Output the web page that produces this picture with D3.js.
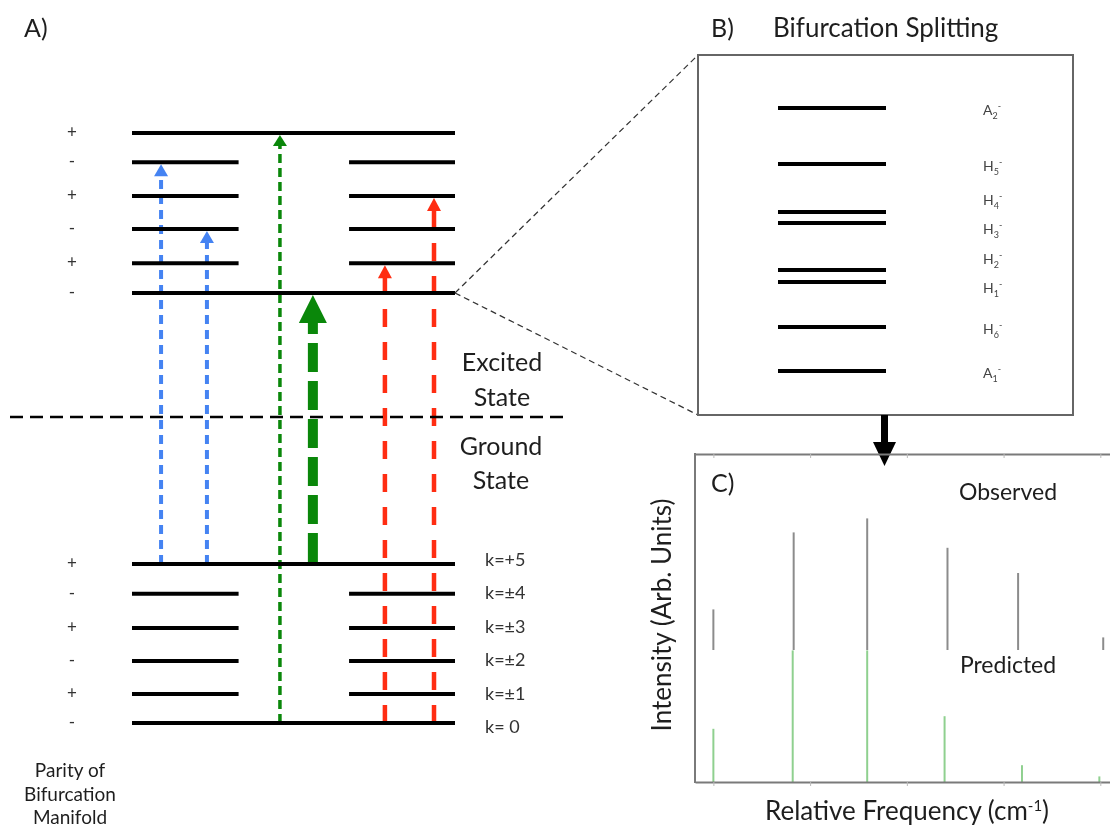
<!DOCTYPE html>
<html><head><meta charset="utf-8">
<script src="https://cdn.jsdelivr.net/npm/d3@7"></script>
<style>
body{margin:0;background:#fff}
svg{will-change:transform}
text{font-family:Lato,"Open Sans",sans-serif;fill:#1e1e1e}
</style>
</head><body>
<svg id="c" width="1110" height="833"></svg>
<script>
// ---------------- Panel A data ----------------
const groundLabels = ["k= 0","k=\u00b11","k=\u00b12","k=\u00b13","k=\u00b14","k=+5"];
const groundEnergy = [0, 0.885, 1.89, 2.9, 3.94, 4.85];
const groundParity = ["-","+","-","+","-","+"];
const groundSplit  = [false,true,true,true,true,false];
const excitedEnergy = [13.12, 14.03, 15.07, 16.08, 17.11, 18];
const excitedParity = ["-","+","-","+","-","+"];
const excitedSplit  = [false,true,true,true,true,false];
// transitions: lower state (g index), upper state (e index), column, style
const transFrom   = [5, 5, 0, 5, 0, 0];
const transTo     = [4, 2, 5, 0, 1, 3];
const transColumn = [0.9, 2.32, 4.58, 5.6, 7.83, 9.35];
const transStyle  = ["blue","blue","green","bigGreen","red","red"];

// ---------------- Panel B data ----------------
const splitName   = ["A","H","H","H","H","H","H","A"];
const splitSub    = ["1","6","1","2","3","4","5","2"];
const splitEnergy = [0, 1.67, 3.38, 3.84, 5.63, 6.05, 7.87, 10];

// ---------------- Panel C data ----------------
const obsFreq  = [0, 0.83, 1.59, 2.42, 3.15, 4.03];
const obsInt   = [0.29, 0.84, 0.94, 0.73, 0.55, 0.09];
const predFreq = [0, 0.82, 1.59, 2.39, 3.19, 3.99];
const predInt  = [0.38, 0.94, 0.94, 0.47, 0.12, 0.04];
const freqTicks = [0, 1, 2, 3, 4];

const svg = d3.select("#c");

// ---------- Panel A ----------
const xA = d3.scaleLinear().domain([0, 10]).range([132, 455]);
const yA = d3.scaleLinear().domain([0, 18]).range([723, 133]);
const styles = {
  blue:     {color:"#4583f2", w:4,   dash:"9,6",   hw:14, hl:12},
  green:    {color:"#0a870a", w:3.5, dash:"9,5",   hw:14, hl:11},
  bigGreen: {color:"#0a870a", w:10,  dash:"29,9",  hw:28, hl:28},
  red:      {color:"#ff2d12", w:4.5, dash:"18,15", hw:14, hl:13}
};
const gArr = svg.append("g");
transFrom.forEach((f, i) => {
  const s = styles[transStyle[i]];
  const x = xA(transColumn[i]);
  const y0 = yA(groundEnergy[f]);
  const yt = yA(excitedEnergy[transTo[i]]) + 2;
  gArr.append("line").attr("x1", x).attr("x2", x).attr("y1", y0 - (transStyle[i]==="bigGreen"?2:0))
    .attr("y2", yt + s.hl - 1).attr("stroke", s.color).attr("stroke-width", s.w)
    .attr("stroke-dasharray", s.dash);
  gArr.append("path").attr("d", `M${x},${yt}L${x - s.hw/2},${yt + s.hl}L${x + s.hw/2},${yt + s.hl}Z`)
    .attr("fill", s.color);
});

function drawLevels(energies, split) {
  const g = svg.append("g");
  energies.forEach((e, i) => {
    const y = yA(e);
    const segs = split[i] ? [[0, 3.3], [6.72, 10]] : [[0, 10]];
    segs.forEach(sg => g.append("line").attr("x1", xA(sg[0])).attr("x2", xA(sg[1]))
      .attr("y1", y).attr("y2", y).attr("stroke", "#000").attr("stroke-width", 4));
  });
}
drawLevels(groundEnergy, groundSplit);
drawLevels(excitedEnergy, excitedSplit);

// parity labels
const parX = 72;
[[groundEnergy, groundParity], [excitedEnergy, excitedParity]].forEach(([E, P]) => {
  svg.append("g").selectAll("text").data(P).join("text")
    .attr("x", parX).attr("y", (d, i) => yA(E[i]) + 5)
    .attr("text-anchor", "middle").attr("font-size", 17).style("fill", "#333").text(d => d);
});
// k labels
const kRow = d3.scaleLinear().domain([0, 5]).range([733, 566]);
svg.append("g").selectAll("text").data(groundLabels).join("text")
  .attr("x", 485).attr("y", (d, i) => kRow(i)).attr("font-size", 18).style("fill", "#333").text(d => d);

// separator
svg.append("line").attr("x1", 10).attr("x2", 566).attr("y1", 417).attr("y2", 417)
  .attr("stroke", "#000").attr("stroke-width", 2.5).attr("stroke-dasharray", "13,7");

const big = 25;
svg.append("text").attr("x", 502).attr("y", 371).attr("text-anchor", "middle").attr("font-size", big).text("Excited");
svg.append("text").attr("x", 502).attr("y", 406).attr("text-anchor", "middle").attr("font-size", big).text("State");
svg.append("text").attr("x", 501).attr("y", 455).attr("text-anchor", "middle").attr("font-size", big).text("Ground");
svg.append("text").attr("x", 501).attr("y", 489).attr("text-anchor", "middle").attr("font-size", big).text("State");

["Parity of", "Bifurcation", "Manifold"].forEach((t, i) =>
  svg.append("text").attr("x", 70).attr("y", 777 + i * 23.5).attr("text-anchor", "middle")
    .attr("font-size", 19).text(t));

svg.append("text").attr("x", 24).attr("y", 37).attr("font-size", big).text("A)");

// ---------- Panel B ----------
const boxB = {x0: 698, x1: 1073, y0: 55, y1: 415};
svg.append("line").attr("x1", xA(10)).attr("y1", yA(excitedEnergy[0])).attr("x2", boxB.x0).attr("y2", boxB.y0)
  .attr("stroke", "#333").attr("stroke-width", 1.2).attr("stroke-dasharray", "6,4");
svg.append("line").attr("x1", xA(10)).attr("y1", yA(excitedEnergy[0])).attr("x2", boxB.x0).attr("y2", boxB.y1)
  .attr("stroke", "#333").attr("stroke-width", 1.2).attr("stroke-dasharray", "6,4");
svg.append("rect").attr("x", boxB.x0).attr("y", boxB.y0).attr("width", boxB.x1 - boxB.x0)
  .attr("height", boxB.y1 - boxB.y0).attr("fill", "none").attr("stroke", "#666").attr("stroke-width", 2);
svg.append("text").attr("x", 711).attr("y", 37).attr("font-size", big).text("B)");
svg.append("text").attr("x", 773).attr("y", 37).attr("font-size", 26).text("Bifurcation Splitting");

const yB = d3.scaleLinear().domain([0, 10]).range([371, 108]);
const gB = svg.append("g");
splitEnergy.forEach(e => gB.append("line").attr("x1", 778).attr("x2", 886)
  .attr("y1", yB(e)).attr("y2", yB(e)).attr("stroke", "#000").attr("stroke-width", 4));
// label positions: spread pairs that are too close
const labY = splitEnergy.map(e => yB(e) + 3);
for (let i = 0; i < labY.length - 1; i++) {
  if (Math.abs(labY[i] - labY[i + 1]) < 20) {
    const c = (labY[i] + labY[i + 1]) / 2 - 5;
    labY[i] = c + 14.5; labY[i + 1] = c - 14.5; i++;
  }
}
splitName.forEach((n, i) => {
  const t = gB.append("text").attr("x", 983).attr("y", labY[i] + 4).attr("font-size", 14).style("fill", "#444");
  t.append("tspan").text(n);
  t.append("tspan").attr("font-size", 9).attr("dy", 4).text(splitSub[i]);
  t.append("tspan").attr("font-size", 9).attr("dy", -10).text("-");
});

// arrow B -> C
svg.append("rect").attr("x", 881).attr("y", 415).attr("width", 7).attr("height", 28).attr("fill", "#000");
svg.append("path").attr("d", "M873,442L896,442L884.5,466Z").attr("fill", "#000");

// ---------- Panel C ----------
const xC = d3.scaleLinear().domain([-0.19, 4.1]).range([695, 1110]);
const yHeight = d3.scaleLinear().domain([0, 1]).range([0, 140]);
const baseObs = 650, basePred = 782, topC = 454;

const gC = svg.append("g");
gC.selectAll("line.obs").data(obsFreq).join("line").attr("class", "obs")
  .attr("x1", d => xC(d)).attr("x2", d => xC(d)).attr("y1", baseObs)
  .attr("y2", (d, i) => baseObs - yHeight(obsInt[i])).attr("stroke", "#8c8c8c").attr("stroke-width", 2);
gC.selectAll("line.pred").data(predFreq).join("line").attr("class", "pred")
  .attr("x1", d => xC(d)).attr("x2", d => xC(d)).attr("y1", basePred)
  .attr("y2", (d, i) => basePred - yHeight(predInt[i])).attr("stroke", "#8fd08f").attr("stroke-width", 2);

const axB = svg.append("g").attr("transform", `translate(0,${basePred})`)
  .call(d3.axisBottom(xC).tickValues(freqTicks).tickSize(4).tickSizeOuter(0).tickFormat(""));
const axT = svg.append("g").attr("transform", `translate(0,${topC})`)
  .call(d3.axisBottom(xC).tickValues(freqTicks).tickSize(4).tickSizeOuter(0).tickFormat(""));
[axB, axT].forEach(a => {
  a.select(".domain").attr("stroke", "#7a7a7a").attr("stroke-width", 2);
  a.selectAll(".tick line").attr("stroke", "#bbb").attr("stroke-width", 1);
});
svg.append("line").attr("x1", 695).attr("x2", 695).attr("y1", topC - 1).attr("y2", basePred + 1)
  .attr("stroke", "#7a7a7a").attr("stroke-width", 2);

svg.append("text").attr("x", 711).attr("y", 492).attr("font-size", big).text("C)");
svg.append("text").attr("x", 1008).attr("y", 500).attr("text-anchor", "middle").attr("font-size", 23).text("Observed");
svg.append("text").attr("x", 1008).attr("y", 673).attr("text-anchor", "middle").attr("font-size", 23).text("Predicted");
const xt = svg.append("text").attr("x", 907).attr("y", 820).attr("text-anchor", "middle").attr("font-size", 26);
xt.append("tspan").text("Relative Frequency (cm");
xt.append("tspan").attr("font-size", 15).attr("dy", -9).text("-1");
xt.append("tspan").attr("dy", 9).text(")");
svg.append("text").attr("transform", "translate(671,615) rotate(-90)").attr("text-anchor", "middle")
  .attr("font-size", 26).text("Intensity (Arb. Units)");
</script>
</body></html>
